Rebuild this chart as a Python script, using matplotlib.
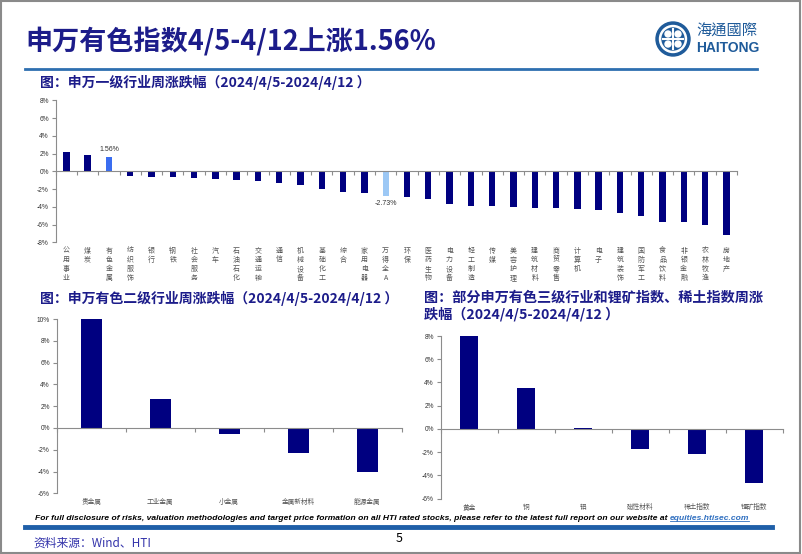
import numpy as np
import matplotlib
matplotlib.use('Agg')
import matplotlib.pyplot as plt
from matplotlib.patches import Ellipse, Rectangle
from matplotlib.lines import Line2D
from matplotlib.ticker import FuncFormatter

plt.rcParams['font.family'] = ['Noto Sans CJK SC', 'DejaVu Sans']

# 申万一级行业周涨跌幅 (%)
l1_names = ['公用事业', '煤炭', '有色金属', '纺织服饰', '银行', '钢铁', '社会服务', '汽车',
            '石油石化', '交通运输', '通信', '机械设备', '基础化工', '综合', '家用电器', '万得全A',
            '环保', '医药生物', '电力设备', '轻工制造', '传媒', '美容护理', '建筑材料', '商贸零售',
            '计算机', '电子', '建筑装饰', '国防军工', '食品饮料', '非银金融', '农林牧渔', '房地产']
l1_values = [2.22, 1.80, 1.56, -0.56, -0.60, -0.64, -0.79, -0.83,
             -0.98, -1.05, -1.31, -1.50, -1.95, -2.29, -2.40, -2.73,
             -2.85, -3.08, -3.68, -3.87, -3.91, -4.02, -4.13, -4.13,
             -4.24, -4.36, -4.73, -5.07, -5.67, -5.71, -6.05, -7.14]

# 申万有色二级行业周涨跌幅 (%)
l2_names = ['贵金属', '工业金属', '小金属', '金属新材料', '能源金属']
l2_values = [10.0, 2.64, -0.55, -2.27, -4.08]

# 部分三级行业和锂矿、稀土指数周涨跌幅 (%)
l3_names = ['黄金', '铜', '铝', '磁性材料', '稀土指数', '锂矿指数']
l3_values = [8.0, 3.49, 0.09, -1.71, -2.14, -4.66]

NAVY = '#000080'
TITLE = '#1c1c8a'
AXIS = '#8c8c8c'
LABEL = '#555555'
W, H = 802, 554


def px(x, y):
    return x / W, 1 - y / H


def box(l, t, r, b):
    return [l / W, 1 - b / H, (r - l) / W, (b - t) / H]


def style_axes(ax, n, lo, hi, step):
    ax.set_xlim(-0.5, n - 0.5)
    ax.set_ylim(lo, hi)
    ax.set_yticks(np.arange(lo, hi + 0.1, step))
    ax.yaxis.set_major_formatter(FuncFormatter(lambda v, p: f'{v:.0f}%'))
    for s in ['top', 'right']:
        ax.spines[s].set_visible(False)
    ax.spines['bottom'].set_position(('data', 0))
    for s in ['left', 'bottom']:
        ax.spines[s].set_color(AXIS)
        ax.spines[s].set_linewidth(0.8)
    ax.set_xticks([])
    ax.set_xticks(np.arange(-0.5, n), minor=True)
    ax.tick_params(axis='x', which='minor', direction='out', length=3, color=AXIS, width=0.8)
    ax.tick_params(axis='y', direction='out', length=3, color=AXIS, width=0.8,
                   labelsize=4.8, labelcolor='#333333', pad=2, labelfontfamily='Liberation Sans')


fig = plt.figure(figsize=(8.02, 5.54), dpi=100)

# header
fig.text(*px(25, 41), '申万有色指数4/5-4/12上涨1.56%', fontsize=19.5, fontweight='bold',
         color=TITLE, va='center', ha='left')
fig.add_artist(Line2D([25 / W, 757 / W], [1 - 69 / H] * 2, color='#2e6fb0', lw=2))

# logo
cx, cy = px(673, 39)
for r, c in [(17, '#1f5b9a'), (13.5, 'white'), (11, '#1f5b9a')]:
    fig.add_artist(Ellipse((cx, cy), 2 * r / W, 2 * r / H, transform=fig.transFigure, color=c))
fig.add_artist(Line2D([cx - 10 / W, cx + 10 / W], [cy, cy], color='white', lw=1.5))
fig.add_artist(Line2D([cx, cx], [cy - 10 / H, cy + 10 / H], color='white', lw=1.5))
for dx, dy in [(-5, -5), (5, -5), (-5, 5), (5, 5)]:
    fig.add_artist(Ellipse((cx + dx / W, cy + dy / H), 6 / W, 6 / H,
                           transform=fig.transFigure, color='white'))
fig.text(*px(696, 31), '海通國際', fontsize=11, color='#1f5b9a', va='center', ha='left',
         family=['Noto Sans CJK TC', 'DejaVu Sans'])
fig.text(*px(696, 48), 'HAITONG', fontsize=10, fontweight='bold', color='#1f5b9a',
         va='center', ha='left', family='Liberation Sans')

# chart 1
fig.text(*px(40, 83), '图：申万一级行业周涨跌幅（2024/4/5-2024/4/12 ）', fontsize=10,
         fontweight='bold', color=TITLE, va='center', ha='left')
ax1 = fig.add_axes(box(55.7, 100.3, 737, 242.3))
colors1 = ['#3a6df0' if n == '有色金属' else '#9cc8f5' if n == '万得全A' else NAVY for n in l1_names]
x1 = np.arange(len(l1_names))
ax1.bar(x1, l1_values, width=0.3, color=colors1)
style_axes(ax1, len(l1_names), -8, 8, 2)
for i, name in enumerate(l1_names):
    ax1.text(i, -0.03, '\n'.join(name), transform=ax1.get_xaxis_transform(), ha='center',
             va='top', fontsize=5, linespacing=1.2, color=LABEL)
for name in ['有色金属', '万得全A']:
    i = l1_names.index(name)
    v = l1_values[i]
    ax1.annotate(f'{v:.2f}%', (i, v), xytext=(0, 3 if v > 0 else -3), textcoords='offset points',
                 ha='center', va='bottom' if v > 0 else 'top', fontsize=5,
                 color='#333333', family='Liberation Sans')

# chart 2
fig.text(*px(40, 298), '图：申万有色二级行业周涨跌幅（2024/4/5-2024/4/12 ）', fontsize=10,
         fontweight='bold', color=TITLE, va='center', ha='left')
ax2 = fig.add_axes(box(56.7, 319, 401.7, 493.3))
ax2.bar(np.arange(len(l2_names)), l2_values, width=0.31, color=NAVY)
style_axes(ax2, len(l2_names), -6, 10, 2)
for i, name in enumerate(l2_names):
    ax2.text(i, -0.05, name, transform=ax2.get_xaxis_transform(), ha='center', va='center',
             fontsize=4.8, color=LABEL)

# chart 3
fig.text(*px(424, 298), '图：部分申万有色三级行业和锂矿指数、稀土指数周涨', fontsize=10.2,
         fontweight='bold', color=TITLE, va='center', ha='left')
fig.text(*px(424, 314), '跌幅（2024/4/5-2024/4/12 ）', fontsize=10.2,
         fontweight='bold', color=TITLE, va='center', ha='left')
ax3 = fig.add_axes(box(440.7, 336, 782.7, 498.7))
ax3.bar(np.arange(len(l3_names)), l3_values, width=0.32, color=NAVY)
style_axes(ax3, len(l3_names), -6, 8, 2)
for i, name in enumerate(l3_names):
    ax3.text(i, -0.051, name, transform=ax3.get_xaxis_transform(), ha='center', va='center',
             fontsize=4.8, color=LABEL)

# footer: fit the disclaimer into the width it has in the reference
disc_style = dict(fontweight='bold', style='italic', va='center', ha='left', family='Liberation Sans')
disc = fig.text(*px(35, 518), 'For full disclosure of risks, valuation methodologies and target price '
                'formation on all HTI rated stocks, please refer to the latest full report on our website at ',
                fontsize=7.4, color='black', **disc_style)
fig.canvas.draw()
bb = disc.get_window_extent()
disc.set_fontsize(7.4 * (662 - 35) / bb.width)
fig.canvas.draw()
bb = disc.get_window_extent()
link = fig.text(bb.x1 / W, 1 - 518 / H, 'equities.htisec.com', fontsize=disc.get_fontsize(),
                color='#2f6fc0', **disc_style)
fig.canvas.draw()
lb = link.get_window_extent()
fig.add_artist(Line2D([lb.x0 / W, lb.x1 / W], [lb.y0 / H + 0.001] * 2, color='#2f6fc0', lw=0.6))
fig.add_artist(Line2D([25 / W, 772 / W], [1 - 527 / H] * 2, color='#1f5fa8', lw=3.5))
fig.text(*px(33, 543), '资料来源：Wind、HTI', fontsize=8.5, color='#3333aa', va='center', ha='left')
fig.text(*px(399, 538), '5', fontsize=9, color='black', va='center', ha='center')

# frame
fig.add_artist(Rectangle((0.001, 0.002), 0.997, 0.996, transform=fig.transFigure, fill=False,
                         edgecolor='#8a8a8a', lw=1.5))

fig.savefig('out.png', dpi=100)
